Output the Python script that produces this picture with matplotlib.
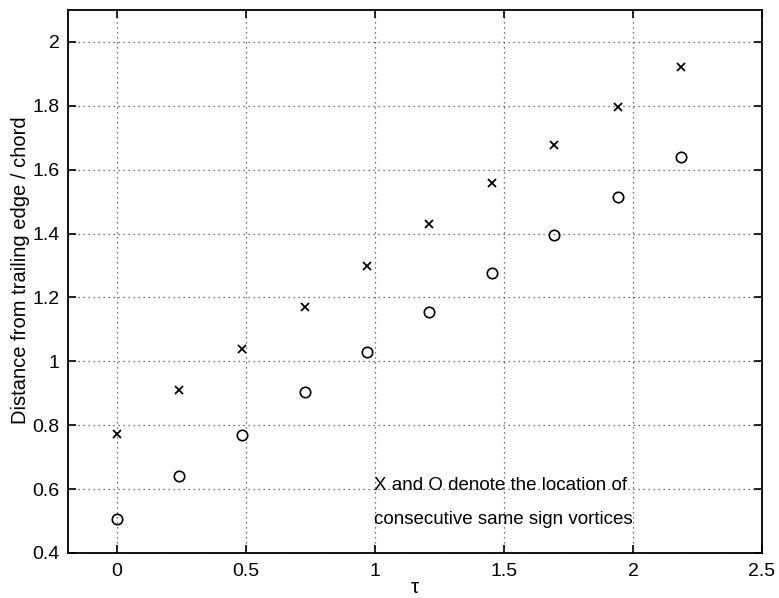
import matplotlib
matplotlib.use("Agg")
import matplotlib.pyplot as plt
import numpy as np

# vortex positions
tau = [0, 0.24, 0.483, 0.727, 0.97, 1.21, 1.454, 1.695, 1.94, 2.185]
x_dist = [0.773, 0.909, 1.04, 1.171, 1.298, 1.43, 1.558, 1.678, 1.797, 1.92]
o_dist = [0.506, 0.641, 0.770, 0.904, 1.03, 1.154, 1.277, 1.397, 1.516, 1.64]

xticks = [0, 0.5, 1, 1.5, 2, 2.5]
yticks = [0.4, 0.6, 0.8, 1.0, 1.2, 1.4, 1.6, 1.8, 2.0]

plt.rcParams['font.family'] = ['Liberation Sans', 'DejaVu Sans']

fig = plt.figure(figsize=(7.79, 5.98), dpi=100)
ax = fig.add_axes([0.0873, 0.0753, 0.8909, 0.9080])

ax.plot(tau, x_dist, 'x', color='black', markersize=5.5, markeredgewidth=1.3)
ax.plot(tau, o_dist, 'o', color='black', markersize=7.5, markerfacecolor='none', markeredgewidth=1.2)

ax.set_xlim(-0.19, 2.5)
ax.set_ylim(0.4, 2.1)
ax.set_xticks(xticks)
ax.set_yticks(yticks)
ax.set_xticklabels(["%g" % t for t in xticks])
ax.set_yticklabels(["%g" % t for t in yticks])
ax.tick_params(direction='in', top=True, right=True, length=6, width=1.2, labelsize=14)
ax.tick_params(axis='x', pad=7)
ax.tick_params(axis='y', pad=6)
ax.grid(True, linestyle=(0, (1, 3)), color='#444444', linewidth=0.9)
for s in ax.spines.values():
    s.set_linewidth(1.3)

ax.set_xlabel('τ', fontsize=15, labelpad=-1)
ax.set_ylabel('Distance from trailing edge / chord', fontsize=14.5, va='center')
ax.yaxis.set_label_coords(-0.068, 0.521)

ax.text(0.995, 0.61, 'X and O denote the location of', fontsize=13.5, va='center', ha='left')
ax.text(0.995, 0.505, 'consecutive same sign vortices', fontsize=13.5, va='center', ha='left')

fig.savefig('out.png', dpi=100)
